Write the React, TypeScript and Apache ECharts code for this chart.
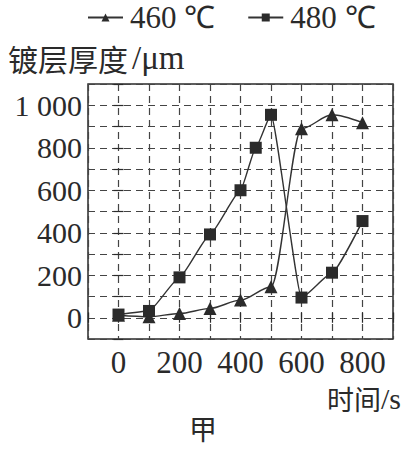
import React, { useEffect, useRef } from "react";
import * as echarts from "echarts";

const times460 = [0, 100, 200, 300, 400, 500, 600, 700, 800];
const thick460 = [12, 5, 20, 44, 83, 146, 890, 955, 918];
const times480 = [0, 100, 200, 300, 400, 450, 500, 600, 700, 800];
const thick480 = [15, 32, 190, 392, 600, 800, 955, 95, 212, 455];
const seriesNames = ["460 ℃", "480 ℃"];
const xTickLabels = [0, 200, 400, 600, 800];
const yTickLabels = [0, 200, 400, 600, 800, 1000];

const SERIF = "Liberation Serif";
const CJK = "Noto Sans CJK SC";
const INK = "#2a2a2a";

export default function App() {
  const ref = useRef<HTMLDivElement>(null);
  useEffect(() => {
    if (!ref.current) return;
    const chart = echarts.init(ref.current, null, { renderer: "svg" });
    const gridLine = { show: true, lineStyle: { type: [7, 5], color: "#444", width: 1.2 } };
    const xBase = {
      type: "value",
      min: -100,
      max: 900,
      interval: 100,
      axisLine: { show: false },
      axisTick: { show: true, inside: true, length: 5, lineStyle: { color: INK, width: 1.2 } },
    };
    const yBase = {
      type: "value",
      min: -100,
      max: 1100,
      interval: 100,
      axisLine: { show: false },
      axisTick: { show: true, inside: true, length: 5, lineStyle: { color: INK, width: 1.2 } },
    };
    chart.setOption({
      animation: false,
      backgroundColor: "#fff",
      grid: {
        left: 88,
        top: 84,
        width: 305,
        height: 255,
        show: true,
        borderColor: INK,
        borderWidth: 1.5,
        backgroundColor: "transparent",
      },
      legend: {
        left: 87,
        top: 2,
        padding: 0,
        itemWidth: 35,
        itemHeight: 10,
        itemGap: 32,
        data: seriesNames,
        textStyle: {
          fontFamily: SERIF,
          fontSize: 31,
          color: INK,
          padding: [0, 0, 0, 2],
        },
      },
      xAxis: [
        {
          ...xBase,
          position: "bottom",
          splitLine: gridLine,
          axisLabel: {
            margin: 8,
            fontFamily: SERIF,
            fontSize: 31,
            color: INK,
            formatter: (v: number) => (xTickLabels.includes(v) ? String(v) : ""),
          },
        },
        { ...xBase, position: "top", splitLine: { show: false }, axisLabel: { show: false } },
      ],
      yAxis: [
        {
          ...yBase,
          position: "left",
          splitLine: gridLine,
          axisLabel: {
            margin: 6,
            fontFamily: SERIF,
            fontSize: 30,
            color: INK,
            formatter: (v: number) =>
              yTickLabels.includes(v) ? (v >= 1000 ? "1 000" : String(v)) : "",
          },
        },
        { ...yBase, position: "right", splitLine: { show: false }, axisLabel: { show: false } },
      ],
      series: [
        {
          name: seriesNames[0],
          type: "line",
          smooth: 0.3,
          smoothMonotone: "x",
          data: times460.map((t, i) => [t, thick460[i]]),
          symbol: "triangle",
          symbolSize: 13,
          itemStyle: { color: "#2b2b2b" },
          lineStyle: { color: "#333", width: 1.4 },
          z: 3,
        },
        {
          name: seriesNames[1],
          type: "line",
          smooth: 0.15,
          smoothMonotone: "x",
          data: times480.map((t, i) => [t, thick480[i]]),
          symbol: "rect",
          symbolSize: 12,
          itemStyle: { color: "#2b2b2b" },
          lineStyle: { color: "#333", width: 1.4 },
          z: 4,
        },
      ],
      graphic: [
        {
          type: "text",
          left: 8,
          top: 41,
          style: {
            text: "{a|镀层厚度}{b|/μm}",
            rich: {
              a: { font: `30px ${CJK}`, fill: INK },
              b: { font: `33px ${SERIF}`, fill: INK, padding: [0, 0, 0, 4] },
            },
          },
        },
        {
          type: "text",
          right: 2,
          top: 383,
          style: {
            text: "{a|时间}{b|/s}",
            rich: {
              a: { font: `27px ${CJK}`, fill: INK },
              b: { font: `30px ${SERIF}`, fill: INK },
            },
          },
        },
        {
          type: "text",
          left: 189,
          top: 414,
          style: { text: "甲", font: `28px ${CJK}`, fill: INK },
        },
      ],
    });
    return () => chart.dispose();
  }, []);
  return (
    <div
      ref={ref}
      style={{ position: "fixed", left: 0, top: 0, width: 403, height: 451, background: "#fff" }}
    />
  );
}
